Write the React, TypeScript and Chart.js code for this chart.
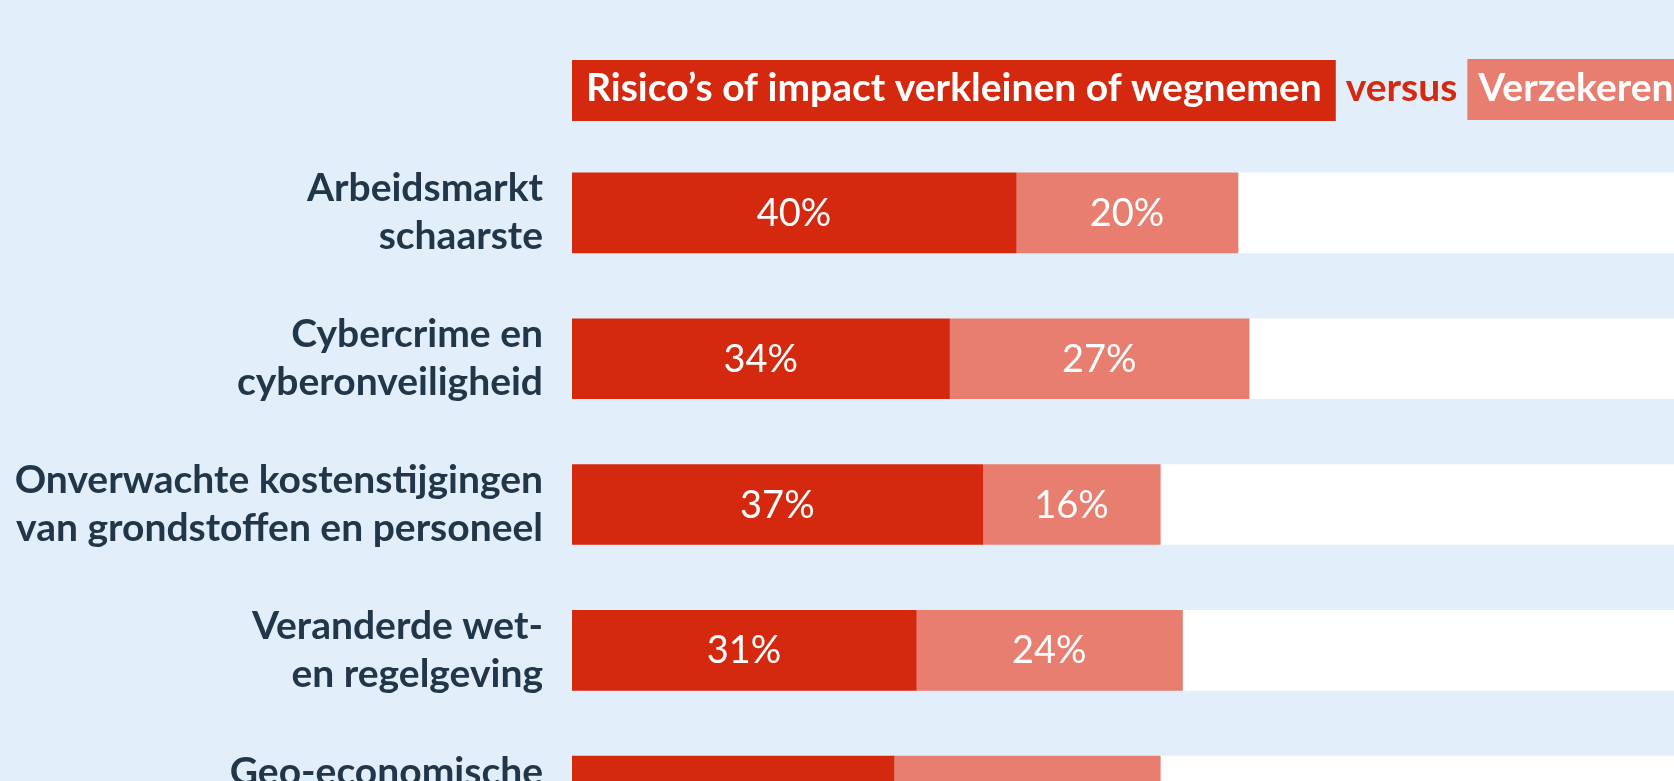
import { useEffect, useRef } from 'react';
import { Chart, registerables } from 'chart.js';

Chart.register(...registerables);

const categories: string[][] = [
  ['Arbeidsmarkt', 'schaarste'],
  ['Cybercrime en', 'cyberonveiligheid'],
  ['Onverwachte kostenstijgingen', 'van grondstoffen en personeel'],
  ['Veranderde wet-', 'en regelgeving'],
  ['Geo-economische', 'ontwikkelingen'],
];
const reduceValues = [40, 34, 37, 31, 29];
const insureValues = [20, 27, 16, 24, 24];
const restValues = reduceValues.map((v, i) => 100 - v - insureValues[i]);

const titleReduce = 'Risico’s of impact verkleinen of wegnemen';
const titleVersus = 'versus';
const titleInsure = 'Verzekeren';

const RED = '#d4290f';
const PINK = '#e77e6f';
const NAVY = '#22364a';
const BG = '#e2eefa';
const FONT = "Lato, 'DejaVu Sans Condensed', sans-serif";

const titlePlugin = {
  id: 'titleBoxes',
  afterDraw(chart: any) {
    const ctx = chart.ctx as CanvasRenderingContext2D;
    const left = chart.chartArea.left;
    const top = 60;
    const h = 61;
    const baseline = 101;
    ctx.save();
    ctx.font = `bold 39px ${FONT}`;
    ctx.textBaseline = 'alphabetic';
    ctx.textAlign = 'left';
    const pad = 14;
    const w1 = ctx.measureText(titleReduce).width;
    ctx.fillStyle = RED;
    ctx.fillRect(left, top, w1 + pad * 2, h);
    ctx.fillStyle = '#ffffff';
    ctx.fillText(titleReduce, left + pad, baseline);
    let x = left + w1 + pad * 2 + 10;
    const w2 = ctx.measureText(titleVersus).width;
    ctx.fillStyle = RED;
    ctx.fillText(titleVersus, x, baseline);
    x += w2 + 10;
    const w3 = ctx.measureText(titleInsure).width;
    ctx.fillStyle = PINK;
    ctx.fillRect(x, top - 1, w3 + pad * 2, h);
    ctx.fillStyle = '#ffffff';
    ctx.fillText(titleInsure, x + 11, baseline);
    ctx.restore();
  },
};

const valueLabelPlugin = {
  id: 'valueLabels',
  afterDatasetsDraw(chart: any) {
    const ctx = chart.ctx as CanvasRenderingContext2D;
    ctx.save();
    ctx.font = `400 38px ${FONT}`;
    ctx.fillStyle = '#ffffff';
    ctx.textAlign = 'center';
    ctx.textBaseline = 'alphabetic';
    [0, 1].forEach((di) => {
      const meta = chart.getDatasetMeta(di);
      meta.data.forEach((el: any, i: number) => {
        const v = chart.data.datasets[di].data[i];
        const cx = (el.x + el.base) / 2;
        ctx.fillText(`${v}%`, cx, el.y + 13);
      });
    });
    ctx.restore();
  },
};

export default function App() {
  const ref = useRef<HTMLCanvasElement>(null);

  useEffect(() => {
    document.body.style.margin = '0';
    const canvas = ref.current!;
    const chart = new Chart(canvas, {
      type: 'bar',
      data: {
        labels: categories,
        datasets: [
          { label: 'Risico’s verkleinen', data: reduceValues, backgroundColor: RED },
          { label: 'Verzekeren', data: insureValues, backgroundColor: PINK },
          { label: 'Rest', data: restValues, backgroundColor: '#ffffff' },
        ],
      },
      options: {
        indexAxis: 'y',
        responsive: false,
        animation: false,
        devicePixelRatio: 1,
        layout: { padding: { top: 140, left: 0, right: 0, bottom: 0 } },
        datasets: { bar: { barThickness: 80, borderWidth: 0 } },
        plugins: {
          legend: { display: false },
          tooltip: { enabled: false },
          title: { display: false },
        },
        scales: {
          x: {
            stacked: true,
            min: 0,
            max: 100,
            display: false,
          },
          y: {
            stacked: true,
            grid: { display: false, drawTicks: false },
            border: { display: false },
            ticks: {
              padding: 29,
              color: NAVY,
              font: { family: FONT, size: 39, weight: 'bold', lineHeight: 1.23 },
            },
            afterFit(scale: any) {
              scale.width = 572;
            },
          },
        },
      },
      plugins: [titlePlugin, valueLabelPlugin],
    } as any);
    return () => chart.destroy();
  }, []);

  return (
    <div
      style={{
        position: 'fixed',
        left: 0,
        top: 0,
        width: 1674,
        height: 781,
        overflow: 'hidden',
        background: BG,
      }}
    >
      <canvas ref={ref} width={1682} height={946} style={{ display: 'block', width: 1682, height: 946 }} />
    </div>
  );
}
